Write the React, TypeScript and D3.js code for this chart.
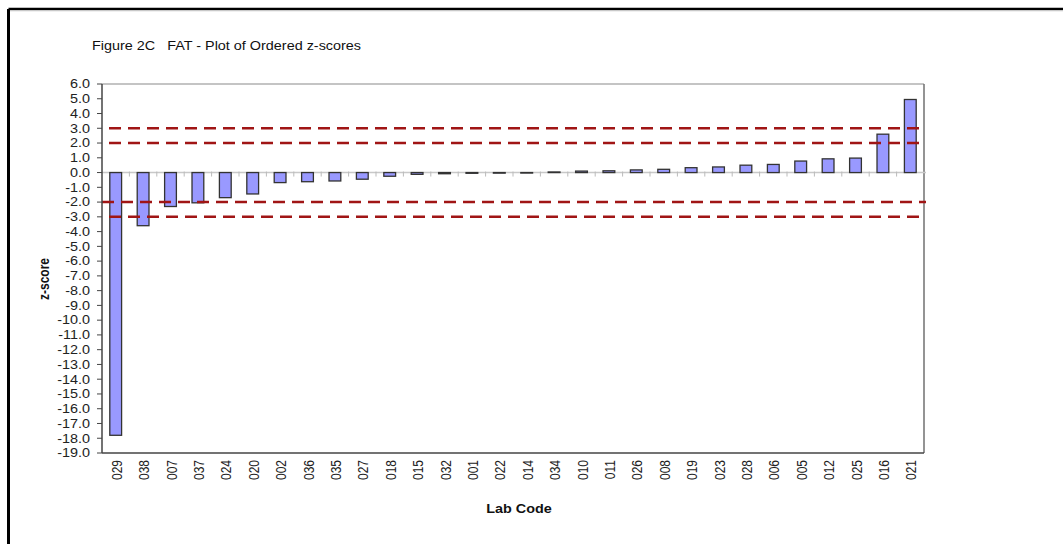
import React from "react";
import * as d3 from "d3";

const labCodes = ["029","038","007","037","024","020","002","036","035","027","018","015","032","001","022","014","034","010","011","026","008","019","023","028","006","005","012","025","016","021"];
const zScores = [-17.8,-3.6,-2.3,-2.05,-1.7,-1.45,-0.68,-0.62,-0.57,-0.45,-0.25,-0.12,-0.08,-0.05,-0.04,-0.03,0.04,0.1,0.12,0.18,0.22,0.33,0.38,0.5,0.55,0.78,0.93,0.98,2.6,4.95];
const yTickValues = d3.range(-19, 7, 1);
const limitValues = [3, 2, -2, -3];
const limitDashOffsets = [12, 12, 0, 12];

const W = 1063, H = 544;
const M = { left: 102, right: 924, top: 84, bottom: 453 };
const SX = 1.2;
const FONT = "'Liberation Sans', Arial, sans-serif";

export default function App() {
  const x = d3.scaleBand<string>().domain(labCodes).range([M.left, M.right]).paddingInner(0).paddingOuter(0);
  const y = d3.scaleLinear().domain([-19, 6]).range([M.bottom, M.top]);
  const bw = x.bandwidth() * 0.43;
  const y0 = y(0);
  const boundaries = d3.range(1, labCodes.length).map(i => M.left + x.step() * i);

  return (
    <svg width={W} height={H} style={{ position: "absolute", left: 0, top: 0, background: "#fff" }} fontFamily={FONT}>
      {/* outer frame */}
      <line x1={8.5} y1={9} x2={W + 5} y2={9} stroke="#000" strokeWidth={2.5} />
      <line x1={8.5} y1={9} x2={8.5} y2={H + 5} stroke="#000" strokeWidth={3} />
      <line x1={10} y1={10.8} x2={W + 5} y2={10.8} stroke="#ccc" strokeWidth={1} />

      {/* title */}
      <g transform={`translate(92,50) scale(${SX},1)`}>
        <text fontSize={12} fill="#111" style={{ whiteSpace: "pre" }} xmlSpace="preserve">Figure 2C   FAT - Plot of Ordered z-scores</text>
      </g>

      {/* plot border top/right */}
      <line x1={M.left} y1={M.top} x2={M.right} y2={M.top} stroke="#8a8a8a" strokeWidth={1.2} />
      <line x1={M.right} y1={M.top} x2={M.right} y2={M.bottom} stroke="#707070" strokeWidth={1.5} />

      {/* zero line and category ticks */}
      <line x1={M.left} y1={y0} x2={M.right + 2} y2={y0} stroke="#c8c8c8" strokeWidth={1.5} />
      {boundaries.map((bx, i) => (
        <line key={"ct" + i} x1={bx} y1={y0 - 1} x2={bx} y2={y0 + 4} stroke="#bbb" strokeWidth={1} />
      ))}

      {/* bars */}
      {labCodes.map((c, i) => {
        const v = zScores[i];
        const cx = (x(c) as number) + x.bandwidth() / 2;
        const top = Math.min(y(v), y0);
        const h = Math.abs(y(v) - y0);
        return (
          <rect key={c} x={cx - bw / 2} y={top} width={bw} height={Math.max(h, 0.5)} fill="#9999ff" stroke="#333" strokeWidth={1.3} />
        );
      })}

      {/* limit lines */}
      {limitValues.map((v, i) => (
        <line key={"lim" + v} x1={M.left} y1={y(v)} x2={M.right + 2} y2={y(v)} stroke="#a01515" strokeWidth={2.5} strokeDasharray="12,7" strokeDashoffset={limitDashOffsets[i]} />
      ))}

      {/* y axis */}
      <line x1={M.left} y1={M.top} x2={M.left} y2={M.bottom} stroke="#444" strokeWidth={1.5} />
      {yTickValues.map(t => (
        <g key={"yt" + t}>
          <line x1={M.left - 5} y1={y(t)} x2={M.left} y2={y(t)} stroke="#444" strokeWidth={1} />
          <g transform={`translate(90,${y(t)}) scale(${SX},1)`}>
            <text fontSize={12} textAnchor="end" dy="0.36em" fill="#222">{t.toFixed(1)}</text>
          </g>
        </g>
      ))}

      {/* x axis */}
      <line x1={M.left} y1={M.bottom} x2={M.right} y2={M.bottom} stroke="#444" strokeWidth={1.5} />
      {labCodes.map(c => {
        const cx = (x(c) as number) + x.bandwidth() / 2 + 1;
        return (
          <g key={"xl" + c} transform={`translate(${cx},460) scale(${SX},1) rotate(-90)`}>
            <text fontSize={12} textAnchor="end" dy="0.36em" fill="#222">{c}</text>
          </g>
        );
      })}

      {/* axis titles */}
      <g transform={`translate(${(M.left + M.right) / 2 + 6},513) scale(${SX},1)`}>
        <text fontSize={12} fontWeight="bold" textAnchor="middle" fill="#111">Lab Code</text>
      </g>
      <g transform={`translate(44,279) scale(${SX},1) rotate(-90)`}>
        <text fontSize={12} fontWeight="bold" textAnchor="middle" dy="0.36em" fill="#111">z-score</text>
      </g>
    </svg>
  );
}
